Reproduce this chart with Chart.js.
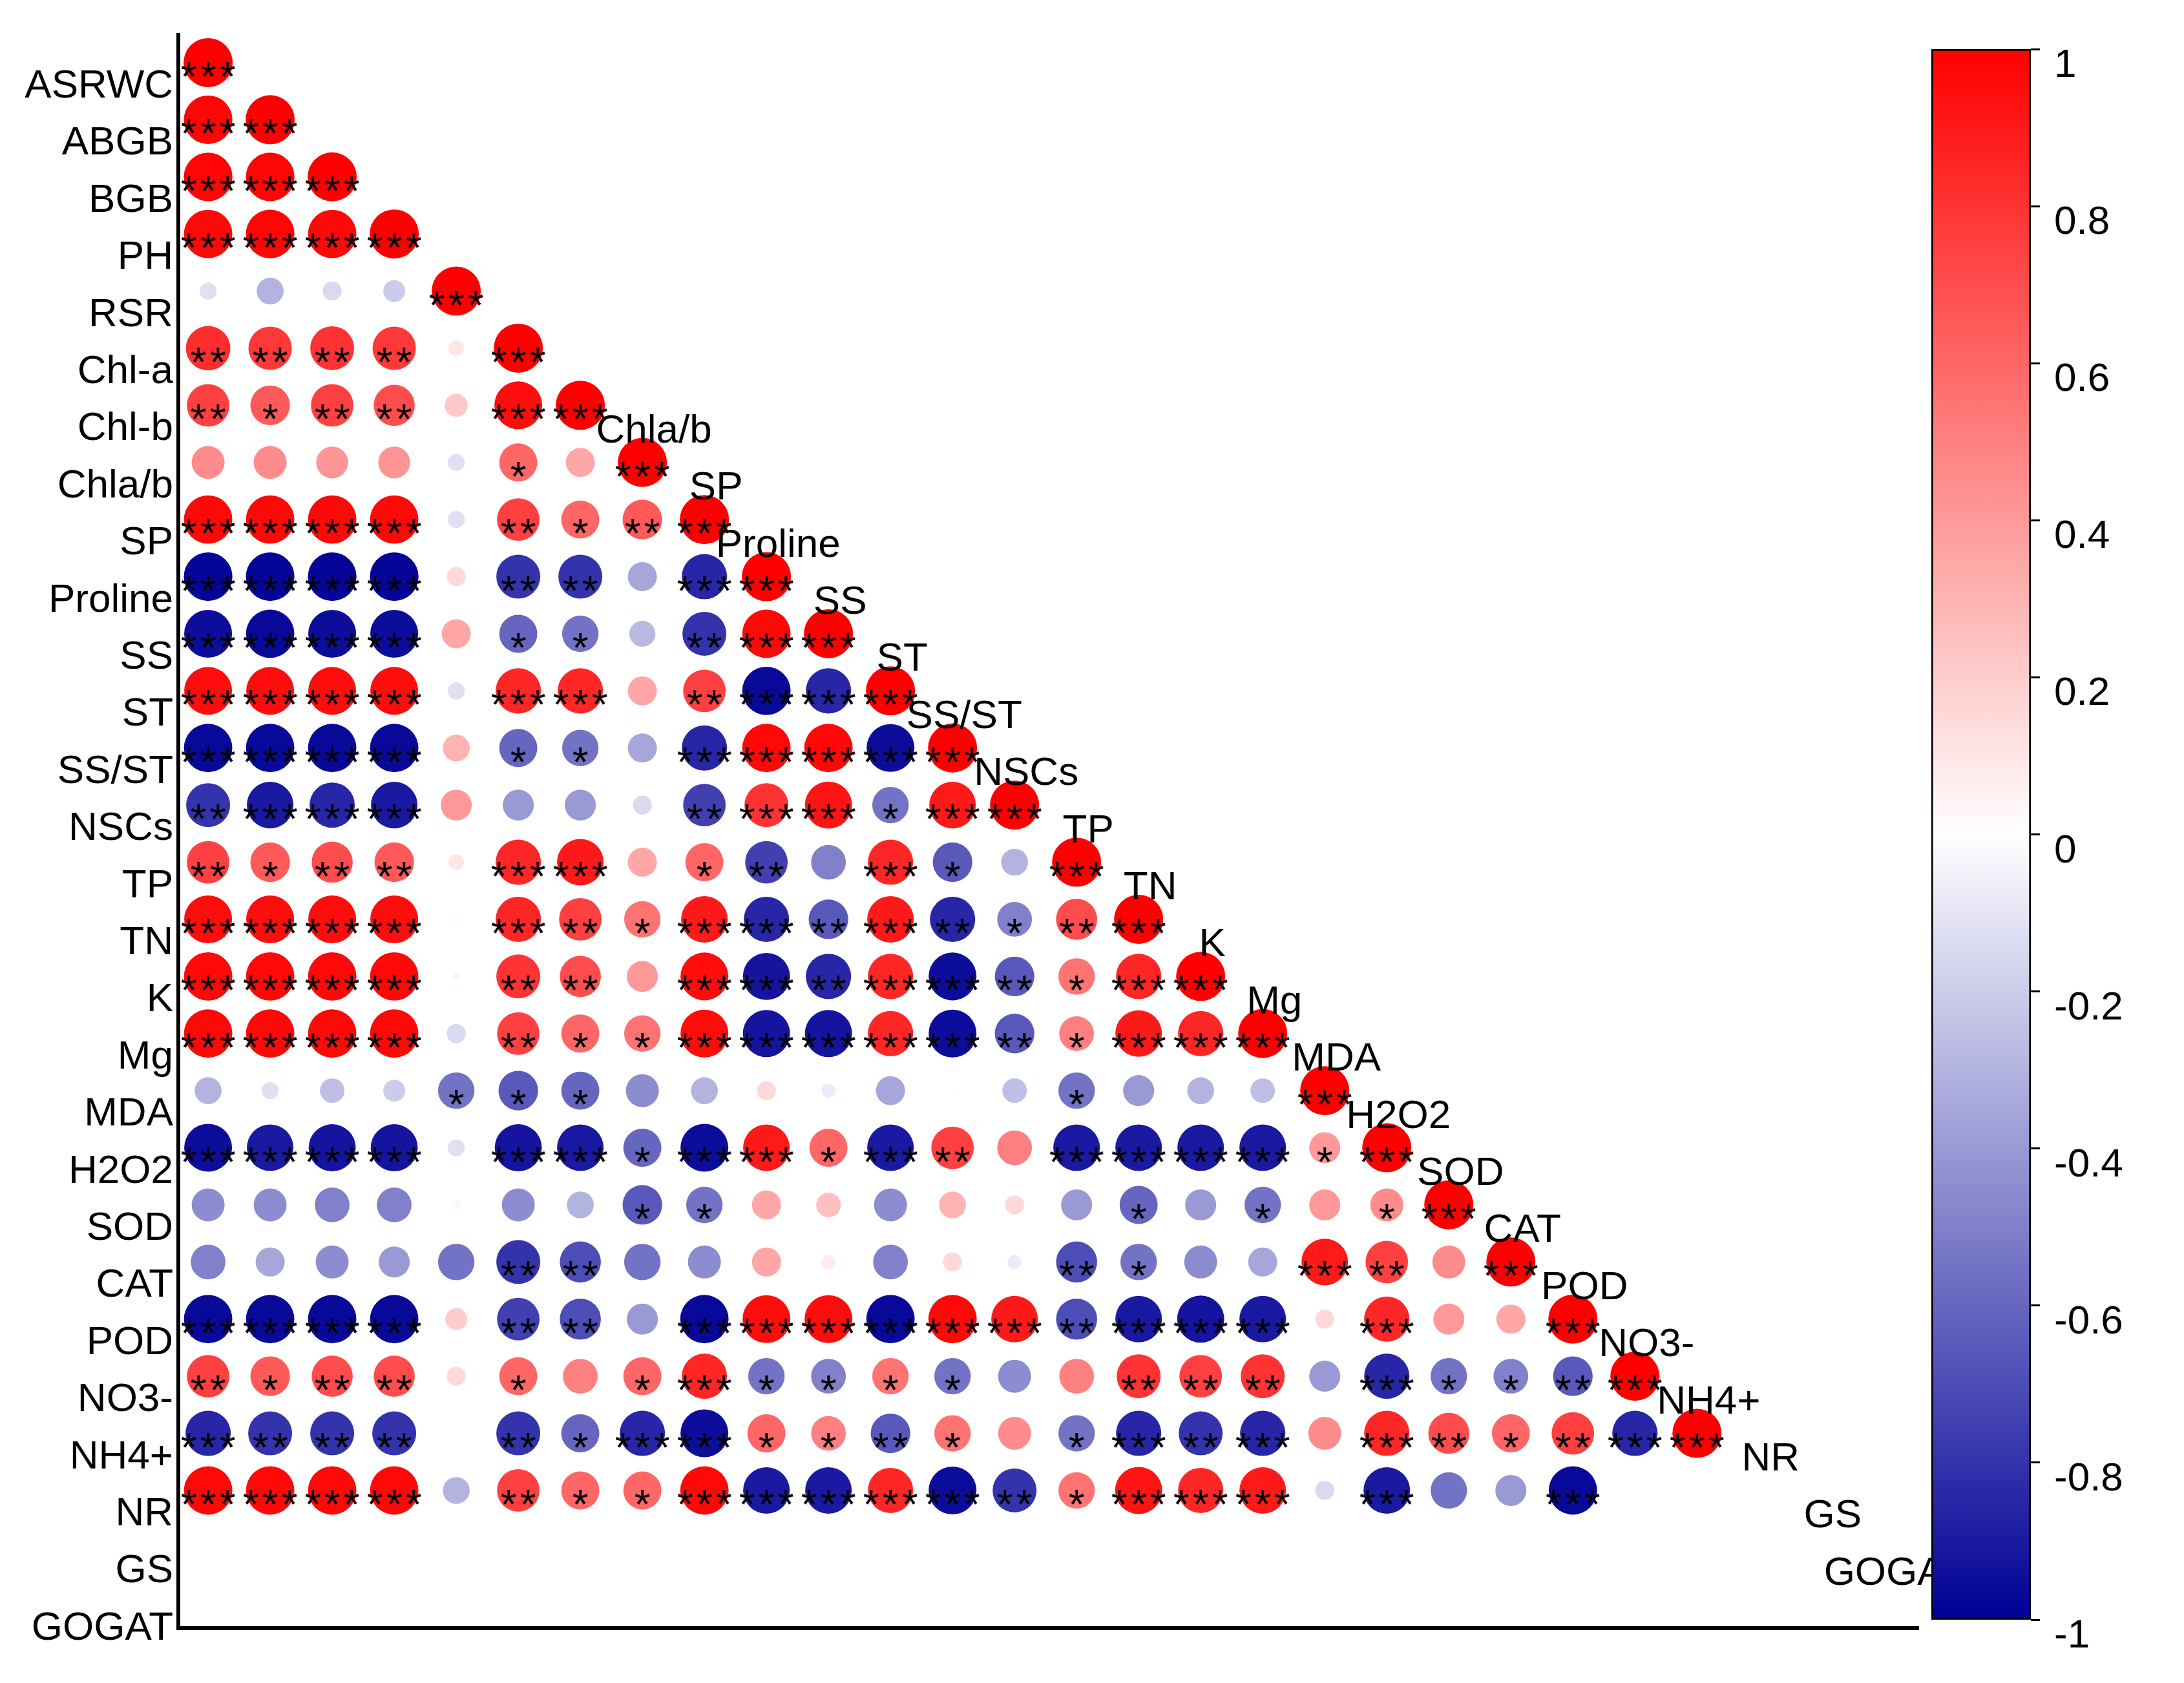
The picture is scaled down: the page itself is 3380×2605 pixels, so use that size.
<!DOCTYPE html>
<html><head><meta charset="utf-8">
<script src="https://cdn.jsdelivr.net/npm/chart.js@4"></script>
<style>html,body{margin:0;padding:0;background:#fff;}#c1{position:absolute;left:0;top:0}#c2{position:absolute;left:2960px;top:0}</style>
</head><body>
<canvas id="c1" width="3380" height="2605"></canvas>
<canvas id="c2" width="420" height="2605"></canvas>
<script>
const variables = ['ASRWC','ABGB','BGB','PH','RSR','Chl-a','Chl-b','Chla/b','SP','Proline','SS','ST','SS/ST','NSCs','TP','TN','K','Mg','MDA','H2O2','SOD','CAT','POD','NO3-','NH4+','NR','GS','GOGAT'];
const S3='***';
const corrRows = [
 [1],
 [0.98,1],
 [0.98,0.98,1],
 [0.97,0.98,0.97,1],
 [-0.12,-0.3,-0.15,-0.2,1],
 [0.82,0.78,0.8,0.78,0.1,1],
 [0.75,0.65,0.75,0.7,0.22,0.95,1],
 [0.45,0.45,0.42,0.42,-0.12,0.6,0.35,1],
 [0.97,0.97,0.97,0.97,-0.12,0.75,0.6,0.65,1],
 [-0.98,-0.98,-0.98,-0.98,0.15,-0.8,-0.8,-0.35,-0.85,1],
 [-0.95,-0.97,-0.95,-0.95,0.35,-0.6,-0.55,-0.28,-0.8,0.97,1],
 [0.95,0.95,0.95,0.95,-0.12,0.85,0.85,0.35,0.75,-0.97,-0.85,1],
 [-0.97,-0.97,-0.97,-0.97,0.3,-0.6,-0.55,-0.35,-0.85,0.97,0.97,-0.95,1],
 [-0.8,-0.9,-0.85,-0.9,0.4,-0.4,-0.4,-0.15,-0.75,0.8,0.92,-0.55,0.9,1],
 [0.75,0.65,0.7,0.65,0.1,0.85,0.9,0.35,0.6,-0.75,-0.5,0.85,-0.65,-0.3,1],
 [0.95,0.95,0.95,0.95,0.02,0.85,0.75,0.55,0.9,-0.85,-0.65,0.9,-0.85,-0.5,0.7,1],
 [0.97,0.97,0.97,0.97,0.03,0.8,0.7,0.4,0.95,-0.92,-0.85,0.85,-0.95,-0.65,0.55,0.85,1],
 [0.97,0.97,0.97,0.97,-0.15,0.75,0.6,0.55,0.95,-0.92,-0.92,0.85,-0.95,-0.65,0.5,0.9,0.85,1],
 [-0.3,-0.12,-0.25,-0.2,-0.55,-0.65,-0.6,-0.45,-0.3,0.15,-0.08,-0.35,0.01,-0.25,-0.55,-0.4,-0.3,-0.25,1],
 [-0.95,-0.9,-0.92,-0.92,-0.12,-0.92,-0.9,-0.6,-0.95,0.9,0.6,-0.9,0.75,0.5,-0.9,-0.9,-0.9,-0.9,0.4,1],
 [-0.45,-0.45,-0.5,-0.5,0.03,-0.45,-0.3,-0.65,-0.55,0.35,0.25,-0.45,0.3,0.15,-0.4,-0.6,-0.4,-0.55,0.4,0.45,1],
 [-0.5,-0.35,-0.45,-0.4,-0.55,-0.8,-0.7,-0.55,-0.45,0.35,0.08,-0.5,0.15,-0.08,-0.7,-0.55,-0.45,-0.35,0.9,0.75,0.45,1],
 [-0.97,-0.97,-0.97,-0.97,0.2,-0.75,-0.7,-0.4,-0.97,0.95,0.95,-0.97,0.97,0.9,-0.7,-0.9,-0.92,-0.9,0.15,0.85,0.4,0.35,1],
 [0.75,0.65,0.7,0.7,0.15,0.6,0.5,0.6,0.85,-0.55,-0.5,0.55,-0.55,-0.45,0.5,0.8,0.75,0.8,-0.4,-0.85,-0.55,-0.5,-0.65,1],
 [-0.85,-0.8,-0.8,-0.8,0.0,-0.8,-0.6,-0.85,-0.95,0.6,0.5,-0.65,0.55,0.45,-0.55,-0.85,-0.8,-0.85,0.45,0.85,0.7,0.6,0.75,-0.85,1],
 [0.97,0.97,0.97,0.97,-0.3,0.75,0.6,0.6,0.97,-0.9,-0.9,0.85,-0.95,-0.8,0.55,0.92,0.85,0.9,-0.15,-0.9,-0.55,-0.4,-0.97],
 [],
 []
];
const starRows = [
 [S3],
 [S3,S3],
 [S3,S3,S3],
 [S3,S3,S3,S3],
 ['','','','',S3],
 ['**','**','**','**','',S3],
 ['**','*','**','**','',S3,S3],
 ['','','','','','*','',S3],
 [S3,S3,S3,S3,'','**','*','**',S3],
 [S3,S3,S3,S3,'','**','**','',S3,S3],
 [S3,S3,S3,S3,'','*','*','','**',S3,S3],
 [S3,S3,S3,S3,'',S3,S3,'','**',S3,S3,S3],
 [S3,S3,S3,S3,'','*','*','',S3,S3,S3,S3,S3],
 ['**',S3,S3,S3,'','','','','**',S3,S3,'*',S3,S3],
 ['**','*','**','**','',S3,S3,'','*','**','',S3,'*','',S3],
 [S3,S3,S3,S3,'',S3,'**','*',S3,S3,'**',S3,'**','*','**',S3],
 [S3,S3,S3,S3,'','**','**','',S3,S3,'**',S3,S3,'**','*',S3,S3],
 [S3,S3,S3,S3,'','**','*','*',S3,S3,S3,S3,S3,'**','*',S3,S3,S3],
 ['','','','','*','*','*','','','','','','','','*','','','',S3],
 [S3,S3,S3,S3,'',S3,S3,'*',S3,S3,'*',S3,'**','',S3,S3,S3,S3,'*',S3],
 ['','','','','','','','*','*','','','','','','','*','','*','','*',S3],
 ['','','','','','**','**','','','','','','','','**','*','','',S3,'**','',S3],
 [S3,S3,S3,S3,'','**','**','',S3,S3,S3,S3,S3,S3,'**',S3,S3,S3,'',S3,'','',S3],
 ['**','*','**','**','','*','','*',S3,'*','*','*','*','','','**','**','**','',S3,'*','*','**',S3],
 [S3,'**','**','**','','**','*',S3,S3,'*','*','**','*','','*',S3,'**',S3,'',S3,'**','*','**',S3,S3],
 [S3,S3,S3,S3,'','**','*','*',S3,S3,S3,S3,S3,'**','*',S3,S3,S3,'',S3,'','',S3],
 [],
 []
];
const diagLabelStart = 8;
const colorbarTicks = [1,0.8,0.6,0.4,0.2,0,-0.2,-0.4,-0.6,-0.8,-1];

function colorFor(v){
  const t=Math.min(1,Math.abs(v));
  if(v>=0){const g=Math.round(255*(1-t));return `rgb(255,${g},${g})`;}
  const c=Math.round(255*(1-t)), b=Math.round(255-(255-150)*t);
  return `rgb(${c},${c},${b})`;
}
const points=[];
corrRows.forEach((row,i)=>row.forEach((v,j)=>{
  points.push({x:j+1,y:i+1,r:38*Math.sqrt(Math.abs(v)),v:v,s:starRows[i][j]||''});
}));

const FONT='"Liberation Sans", Arial, sans-serif';
const overlay={
  id:'overlay',
  afterDatasetsDraw(chart){
    const ctx=chart.ctx, xs=chart.scales.x, ys=chart.scales.y;
    ctx.save();
    ctx.fillStyle='#000';ctx.font='64px '+FONT;ctx.textAlign='center';ctx.textBaseline='alphabetic';
    const meta=chart.getDatasetMeta(0);
    meta.data.forEach((el,k)=>{
      const s=points[k].s; if(!s) return;
      const n=s.length, sp=30;
      for(let q=0;q<n;q++){ctx.fillText('*',el.x+(q-(n-1)/2)*sp,el.y+44);}
    });
    ctx.font='62px '+FONT;ctx.textAlign='right';ctx.textBaseline='middle';
    variables.forEach((name,i)=>{ctx.fillText(name,268,ys.getPixelForValue(i+1)+37);});
    ctx.textAlign='center';
    for(let k=diagLabelStart;k<=variables.length;k++){
      ctx.fillText(variables[k-1],xs.getPixelForValue(k)+18,ys.getPixelForValue(k)-48);
    }
    ctx.restore();
  }
};

new Chart(document.getElementById('c1'),{
  type:'bubble',
  data:{datasets:[{data:points,
    backgroundColor:points.map(p=>colorFor(p.v)),borderWidth:0,hoverRadius:0}]},
  options:{responsive:false,animation:false,devicePixelRatio:1,
    layout:{padding:{left:276,right:411,top:54,bottom:85}},
    plugins:{legend:{display:false},tooltip:{enabled:false}},
    scales:{
      x:{type:'linear',min:0.52,max:28.57,ticks:{display:false},grid:{display:false},
         border:{display:true,color:'#000',width:6},afterFit(s){s.height=0;}},
      y:{type:'linear',min:0.514,max:28.41,reverse:true,ticks:{display:false},grid:{display:false},
         border:{display:true,color:'#000',width:6},afterFit(s){s.width=0;}}
    }},
  plugins:[overlay]
});

new Chart(document.getElementById('c2'),{
  type:'bar',
  data:{labels:['cb'],datasets:[{data:[[-1,1]],barPercentage:1,categoryPercentage:1,
    borderColor:'#000',borderWidth:3,borderSkipped:false,
    backgroundColor(ctx){
      const ca=ctx.chart.chartArea; if(!ca) return '#fff';
      const ys=ctx.chart.scales.y;
      const g=ctx.chart.ctx.createLinearGradient(0,ys.getPixelForValue(1),0,ys.getPixelForValue(-1));
      for(let k=0;k<=20;k++){const v=1-k/10;g.addColorStop(k/20,colorFor(v));}
      return g;
    }}]},
  options:{responsive:false,animation:false,devicePixelRatio:1,
    layout:{padding:{left:46,top:76,bottom:98,right:0}},
    plugins:{legend:{display:false},tooltip:{enabled:false}},
    scales:{
      x:{display:false},
      y:{position:'right',min:-1,max:1,afterBuildTicks(s){s.ticks=colorbarTicks.map(v=>({value:v}));},
         ticks:{font:{size:62,family:FONT},color:'#000',labelOffset:26,padding:22,
           callback:v=>String(Math.round(v*10)/10)},
         grid:{drawOnChartArea:false,drawTicks:true,tickLength:14,color:'#000',lineWidth:3},
         border:{display:false},afterFit(s){s.width=220;}}
    }}
});
</script>
<style>#c2{left:2943px}</style>
</body></html>
